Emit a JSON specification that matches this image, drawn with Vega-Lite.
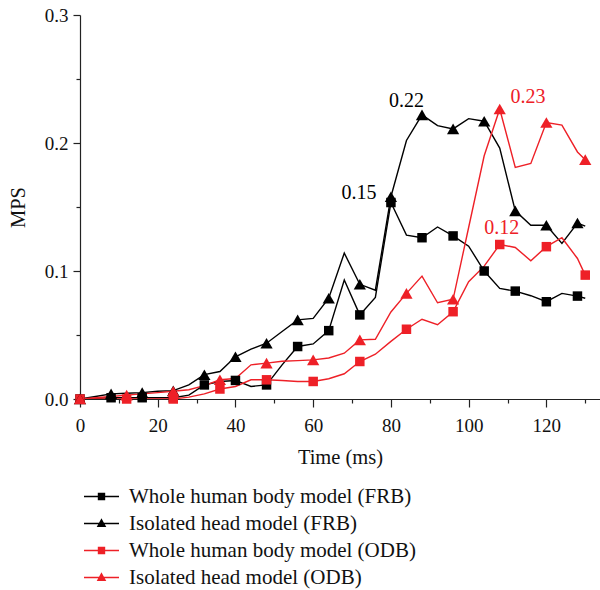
{
  "$schema": "https://vega.github.io/schema/vega-lite/v6.json",
  "autosize": "none",
  "width": 520,
  "height": 384,
  "padding": {"left": 80, "top": 15, "right": 0, "bottom": 191},
  "background": "white",
  "config": {
    "font": "Liberation Serif",
    "view": {"stroke": null},
    "axis": {"grid": false, "labelFont": "Liberation Serif", "titleFont": "Liberation Serif", "labelFontSize": 19, "titleFontSize": 20.5, "titleFontWeight": "normal", "labelColor": "#111", "titleColor": "#111", "domainColor": "#222", "tickColor": "#222", "domainWidth": 1.2, "tickWidth": 1.2},
    "legend": {"labelFont": "Liberation Serif", "labelFontSize": 21, "labelColor": "#111", "labelLimit": 500}
  },
  "datasets": {
    "pts": [
      {"s":"Whole human body model (FRB)","t":0,"v":0,"m":1},
      {"s":"Whole human body model (FRB)","t":4,"v":0.0005,"m":0},
      {"s":"Whole human body model (FRB)","t":8,"v":0.001,"m":1},
      {"s":"Whole human body model (FRB)","t":12,"v":0.001,"m":0},
      {"s":"Whole human body model (FRB)","t":16,"v":0.001,"m":1},
      {"s":"Whole human body model (FRB)","t":20,"v":0.001,"m":0},
      {"s":"Whole human body model (FRB)","t":24,"v":0.001,"m":1},
      {"s":"Whole human body model (FRB)","t":28,"v":0.003,"m":0},
      {"s":"Whole human body model (FRB)","t":32,"v":0.011,"m":1},
      {"s":"Whole human body model (FRB)","t":36,"v":0.0137,"m":0},
      {"s":"Whole human body model (FRB)","t":40,"v":0.0145,"m":1},
      {"s":"Whole human body model (FRB)","t":44,"v":0.0098,"m":0},
      {"s":"Whole human body model (FRB)","t":48,"v":0.011,"m":1},
      {"s":"Whole human body model (FRB)","t":52,"v":0.0267,"m":0},
      {"s":"Whole human body model (FRB)","t":56,"v":0.041,"m":1},
      {"s":"Whole human body model (FRB)","t":60,"v":0.043,"m":0},
      {"s":"Whole human body model (FRB)","t":64,"v":0.0534,"m":1},
      {"s":"Whole human body model (FRB)","t":68,"v":0.093,"m":0},
      {"s":"Whole human body model (FRB)","t":72,"v":0.0657,"m":1},
      {"s":"Whole human body model (FRB)","t":76,"v":0.0794,"m":0},
      {"s":"Whole human body model (FRB)","t":80,"v":0.1535,"m":1},
      {"s":"Whole human body model (FRB)","t":84,"v":0.128,"m":0},
      {"s":"Whole human body model (FRB)","t":88,"v":0.126,"m":1},
      {"s":"Whole human body model (FRB)","t":92,"v":0.1344,"m":0},
      {"s":"Whole human body model (FRB)","t":96,"v":0.1274,"m":1},
      {"s":"Whole human body model (FRB)","t":100,"v":0.1194,"m":0},
      {"s":"Whole human body model (FRB)","t":104,"v":0.1,"m":1},
      {"s":"Whole human body model (FRB)","t":108,"v":0.0864,"m":0},
      {"s":"Whole human body model (FRB)","t":112,"v":0.0843,"m":1},
      {"s":"Whole human body model (FRB)","t":116,"v":0.0807,"m":0},
      {"s":"Whole human body model (FRB)","t":120,"v":0.076,"m":1},
      {"s":"Whole human body model (FRB)","t":124,"v":0.0825,"m":0},
      {"s":"Whole human body model (FRB)","t":128,"v":0.0804,"m":1},
      {"s":"Whole human body model (FRB)","t":130,"v":0.0787,"m":0},

      {"s":"Isolated head model (FRB)","t":0,"v":0,"m":1},
      {"s":"Isolated head model (FRB)","t":4,"v":0.002,"m":0},
      {"s":"Isolated head model (FRB)","t":8,"v":0.004,"m":1},
      {"s":"Isolated head model (FRB)","t":12,"v":0.0045,"m":0},
      {"s":"Isolated head model (FRB)","t":16,"v":0.005,"m":1},
      {"s":"Isolated head model (FRB)","t":20,"v":0.006,"m":0},
      {"s":"Isolated head model (FRB)","t":24,"v":0.0065,"m":1},
      {"s":"Isolated head model (FRB)","t":28,"v":0.011,"m":0},
      {"s":"Isolated head model (FRB)","t":32,"v":0.019,"m":1},
      {"s":"Isolated head model (FRB)","t":36,"v":0.0215,"m":0},
      {"s":"Isolated head model (FRB)","t":40,"v":0.033,"m":1},
      {"s":"Isolated head model (FRB)","t":44,"v":0.039,"m":0},
      {"s":"Isolated head model (FRB)","t":48,"v":0.0436,"m":1},
      {"s":"Isolated head model (FRB)","t":52,"v":0.0527,"m":0},
      {"s":"Isolated head model (FRB)","t":56,"v":0.0618,"m":1},
      {"s":"Isolated head model (FRB)","t":60,"v":0.063,"m":0},
      {"s":"Isolated head model (FRB)","t":64,"v":0.0787,"m":1},
      {"s":"Isolated head model (FRB)","t":68,"v":0.114,"m":0},
      {"s":"Isolated head model (FRB)","t":72,"v":0.0896,"m":1},
      {"s":"Isolated head model (FRB)","t":76,"v":0.085,"m":0},
      {"s":"Isolated head model (FRB)","t":80,"v":0.158,"m":1},
      {"s":"Isolated head model (FRB)","t":84,"v":0.202,"m":0},
      {"s":"Isolated head model (FRB)","t":88,"v":0.222,"m":1},
      {"s":"Isolated head model (FRB)","t":92,"v":0.2136,"m":0},
      {"s":"Isolated head model (FRB)","t":96,"v":0.211,"m":1},
      {"s":"Isolated head model (FRB)","t":100,"v":0.219,"m":0},
      {"s":"Isolated head model (FRB)","t":104,"v":0.217,"m":1},
      {"s":"Isolated head model (FRB)","t":108,"v":0.196,"m":0},
      {"s":"Isolated head model (FRB)","t":112,"v":0.147,"m":1},
      {"s":"Isolated head model (FRB)","t":116,"v":0.1357,"m":0},
      {"s":"Isolated head model (FRB)","t":120,"v":0.1357,"m":1},
      {"s":"Isolated head model (FRB)","t":124,"v":0.1215,"m":0},
      {"s":"Isolated head model (FRB)","t":128,"v":0.1375,"m":1},
      {"s":"Isolated head model (FRB)","t":130,"v":0.135,"m":0},

      {"s":"Whole human body model (ODB)","t":0,"v":0,"m":1},
      {"s":"Whole human body model (ODB)","t":4,"v":0,"m":0},
      {"s":"Whole human body model (ODB)","t":8,"v":0,"m":0},
      {"s":"Whole human body model (ODB)","t":12,"v":0,"m":1},
      {"s":"Whole human body model (ODB)","t":16,"v":0,"m":0},
      {"s":"Whole human body model (ODB)","t":20,"v":0,"m":0},
      {"s":"Whole human body model (ODB)","t":24,"v":0,"m":1},
      {"s":"Whole human body model (ODB)","t":28,"v":0.0015,"m":0},
      {"s":"Whole human body model (ODB)","t":32,"v":0.004,"m":0},
      {"s":"Whole human body model (ODB)","t":36,"v":0.0078,"m":1},
      {"s":"Whole human body model (ODB)","t":40,"v":0.0098,"m":0},
      {"s":"Whole human body model (ODB)","t":44,"v":0.015,"m":0},
      {"s":"Whole human body model (ODB)","t":48,"v":0.015,"m":1},
      {"s":"Whole human body model (ODB)","t":52,"v":0.0145,"m":0},
      {"s":"Whole human body model (ODB)","t":56,"v":0.0137,"m":0},
      {"s":"Whole human body model (ODB)","t":60,"v":0.0137,"m":1},
      {"s":"Whole human body model (ODB)","t":64,"v":0.0158,"m":0},
      {"s":"Whole human body model (ODB)","t":68,"v":0.0197,"m":0},
      {"s":"Whole human body model (ODB)","t":72,"v":0.0293,"m":1},
      {"s":"Whole human body model (ODB)","t":76,"v":0.035,"m":0},
      {"s":"Whole human body model (ODB)","t":80,"v":0.045,"m":0},
      {"s":"Whole human body model (ODB)","t":84,"v":0.0545,"m":1},
      {"s":"Whole human body model (ODB)","t":88,"v":0.0623,"m":0},
      {"s":"Whole human body model (ODB)","t":92,"v":0.058,"m":0},
      {"s":"Whole human body model (ODB)","t":96,"v":0.0682,"m":1},
      {"s":"Whole human body model (ODB)","t":100,"v":0.0916,"m":0},
      {"s":"Whole human body model (ODB)","t":104,"v":0.1038,"m":0},
      {"s":"Whole human body model (ODB)","t":108,"v":0.1207,"m":1},
      {"s":"Whole human body model (ODB)","t":112,"v":0.1184,"m":0},
      {"s":"Whole human body model (ODB)","t":116,"v":0.108,"m":0},
      {"s":"Whole human body model (ODB)","t":120,"v":0.119,"m":1},
      {"s":"Whole human body model (ODB)","t":124,"v":0.126,"m":0},
      {"s":"Whole human body model (ODB)","t":128,"v":0.1098,"m":0},
      {"s":"Whole human body model (ODB)","t":130,"v":0.0968,"m":1},

      {"s":"Isolated head model (ODB)","t":0,"v":0,"m":1},
      {"s":"Isolated head model (ODB)","t":4,"v":0.001,"m":0},
      {"s":"Isolated head model (ODB)","t":8,"v":0.002,"m":0},
      {"s":"Isolated head model (ODB)","t":12,"v":0.003,"m":1},
      {"s":"Isolated head model (ODB)","t":16,"v":0.004,"m":0},
      {"s":"Isolated head model (ODB)","t":20,"v":0.005,"m":0},
      {"s":"Isolated head model (ODB)","t":24,"v":0.006,"m":1},
      {"s":"Isolated head model (ODB)","t":28,"v":0.0072,"m":0},
      {"s":"Isolated head model (ODB)","t":32,"v":0.0104,"m":0},
      {"s":"Isolated head model (ODB)","t":36,"v":0.015,"m":1},
      {"s":"Isolated head model (ODB)","t":40,"v":0.016,"m":0},
      {"s":"Isolated head model (ODB)","t":44,"v":0.0267,"m":0},
      {"s":"Isolated head model (ODB)","t":48,"v":0.028,"m":1},
      {"s":"Isolated head model (ODB)","t":52,"v":0.0295,"m":0},
      {"s":"Isolated head model (ODB)","t":56,"v":0.03,"m":0},
      {"s":"Isolated head model (ODB)","t":60,"v":0.0306,"m":1},
      {"s":"Isolated head model (ODB)","t":64,"v":0.032,"m":0},
      {"s":"Isolated head model (ODB)","t":68,"v":0.0358,"m":0},
      {"s":"Isolated head model (ODB)","t":72,"v":0.0462,"m":1},
      {"s":"Isolated head model (ODB)","t":76,"v":0.0467,"m":0},
      {"s":"Isolated head model (ODB)","t":80,"v":0.068,"m":0},
      {"s":"Isolated head model (ODB)","t":84,"v":0.0825,"m":1},
      {"s":"Isolated head model (ODB)","t":88,"v":0.096,"m":0},
      {"s":"Isolated head model (ODB)","t":92,"v":0.0752,"m":0},
      {"s":"Isolated head model (ODB)","t":96,"v":0.0779,"m":1},
      {"s":"Isolated head model (ODB)","t":100,"v":0.134,"m":0},
      {"s":"Isolated head model (ODB)","t":104,"v":0.19,"m":0},
      {"s":"Isolated head model (ODB)","t":108,"v":0.2266,"m":1},
      {"s":"Isolated head model (ODB)","t":112,"v":0.181,"m":0},
      {"s":"Isolated head model (ODB)","t":116,"v":0.184,"m":0},
      {"s":"Isolated head model (ODB)","t":120,"v":0.216,"m":1},
      {"s":"Isolated head model (ODB)","t":124,"v":0.214,"m":0},
      {"s":"Isolated head model (ODB)","t":128,"v":0.193,"m":0},
      {"s":"Isolated head model (ODB)","t":130,"v":0.187,"m":1}
    ],
    "notes": [
      {"t":84,"v":0.233,"label":"0.22","c":"black"},
      {"t":71.8,"v":0.161,"label":"0.15","c":"black"},
      {"t":115.3,"v":0.2357,"label":"0.23","c":"red"},
      {"t":108.5,"v":0.1336,"label":"0.12","c":"red"}
    ]
  },
  "resolve": {"axis": {"x": "independent", "y": "independent"}},
  "layer": [
    {
      "data": {"name": "pts"},
      "mark": {"type": "line", "strokeWidth": 1.4, "clip": true},
      "encoding": {
        "x": {"field": "t", "type": "quantitative", "scale": {"domain": [0, 133.8], "nice": false, "zero": false},
              "axis": {"values": [0,20,40,60,80,100,120], "title": "Time (ms)", "tickSize": 8, "labelPadding": 9, "titlePadding": 12, "labelFlush": false}},
        "y": {"field": "v", "type": "quantitative", "scale": {"domain": [0, 0.3], "nice": false, "zero": false},
              "axis": {"values": [0,0.1,0.2,0.3], "format": ".1f", "title": "MPS", "tickSize": 7, "labelPadding": 5, "titlePadding": 16, "labelFlush": false}},
        "color": {"field": "s", "type": "nominal",
                  "scale": {"domain": ["Whole human body model (FRB)","Isolated head model (FRB)","Whole human body model (ODB)","Isolated head model (ODB)"],
                            "range": ["#000000","#000000","#ee2027","#ee2027"]},
                  "legend": {"title": null, "orient": "none", "legendX": 11, "legendY": 471, "padding": 0,
                             "symbolSize": 100, "labelOffset": 17, "rowPadding": 5, "symbolStrokeWidth": 1.4,
                             "encode": {"symbols": {"update": {
                               "shape": {"signal": "indexof(datum.value, 'Whole') >= 0 ? 'M-3.5,0H3.5M-0.6,-0.6H0.6V0.6H-0.6Z' : 'M-3.5,0H3.5M0,-0.75L0.72,0.55H-0.72Z'"},
                               "stroke": {"signal": "indexof(datum.value, 'ODB') >= 0 ? '#ee2027' : '#000000'"},
                               "fill": {"signal": "indexof(datum.value, 'ODB') >= 0 ? '#ee2027' : '#000000'"},
                               "strokeWidth": {"value": 1.4},
                               "opacity": {"value": 1}
                             }}}}},
        "order": {"field": "t", "type": "quantitative"}
      }
    },
    {
      "data": {"name": "pts"},
      "transform": [{"filter": "datum.m == 1 && indexof(datum.s, 'Whole') >= 0"}],
      "mark": {"type": "point", "filled": true, "opacity": 1, "size": 90},
      "encoding": {
        "x": {"field": "t", "type": "quantitative", "axis": null},
        "y": {"field": "v", "type": "quantitative", "axis": null},
        "color": {"field": "s", "type": "nominal"},
        "shape": {"field": "s", "type": "nominal", "legend": null,
                  "scale": {"domain": ["Isolated head model (FRB)","Whole human body model (FRB)","Isolated head model (ODB)","Whole human body model (ODB)"],
                            "range": ["triangle-up","square","triangle-up","square"]}}
      }
    },
    {
      "data": {"name": "pts"},
      "transform": [{"filter": "datum.m == 1 && indexof(datum.s, 'Isolated') >= 0"}],
      "mark": {"type": "point", "filled": true, "opacity": 1, "size": 150},
      "encoding": {
        "x": {"field": "t", "type": "quantitative", "axis": null},
        "y": {"field": "v", "type": "quantitative", "axis": null},
        "color": {"field": "s", "type": "nominal"},
        "shape": {"field": "s", "type": "nominal", "legend": null}
      }
    },
    {
      "data": {"name": "notes"},
      "transform": [{"filter": "datum.c == 'black'"}],
      "mark": {"type": "text", "font": "Liberation Serif", "fontSize": 20, "color": "#000000"},
      "encoding": {
        "x": {"field": "t", "type": "quantitative", "axis": {"values": [10,30,50,70,90,110,130], "labels": false, "domain": false, "tickSize": 4, "title": null, "orient": "bottom"}},
        "y": {"field": "v", "type": "quantitative", "axis": {"values": [0.05,0.15,0.25], "labels": false, "domain": false, "tickSize": 4, "title": null, "orient": "left"}},
        "text": {"field": "label"}
      }
    },
    {
      "data": {"name": "notes"},
      "transform": [{"filter": "datum.c == 'red'"}],
      "mark": {"type": "text", "font": "Liberation Serif", "fontSize": 20, "color": "#ee2027"},
      "encoding": {
        "x": {"field": "t", "type": "quantitative", "axis": null},
        "y": {"field": "v", "type": "quantitative", "axis": null},
        "text": {"field": "label"}
      }
    }
  ]
}
